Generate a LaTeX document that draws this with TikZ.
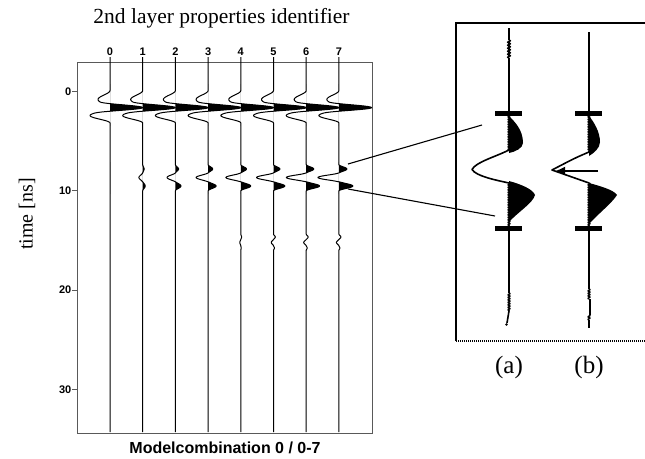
\documentclass[tikz,border=0pt]{standalone}
\usepackage{fontspec}
\setmainfont{Liberation Serif}
\setsansfont{Liberation Sans}
\usetikzlibrary{arrows.meta,decorations.pathmorphing}
\begin{document}
\begin{tikzpicture}[x=1pt,y=-1pt,
  declare function={
    bp(\qa,\qb,\qc)=(abs(\qa-\qb)<\qc)?(0.5*(1+cos(180*(\qa-\qb)/\qc))):0;
    dw(\qa)=-12*bp(\qa,99.5,9)+33*bp(\qa,107.5,5.5)-20*bp(\qa,115.5,7.5);
    sw(\qa)=8*bp(\qa,169,4.5)-21*bp(\qa,177.5,5)+14*bp(\qa,186,5);
    tw(\qa)=2*bp(\qa,237,3)-2.5*bp(\qa,242.5,3.5)+1*bp(\qa,248,2.5);
  },
  trace/.style={line width=1pt,line join=round},
  frame/.style={line width=0.8pt,black!65},
  tick/.style={line width=0.8pt,black!65},
  num/.style={font=\sffamily\bfseries\fontsize{11}{13}\selectfont,inner sep=0pt},
  conn/.style={line width=1.1pt},
  itrace/.style={line width=1.6pt,line join=round},
  zz/.style={decorate,decoration={zigzag,segment length=2.5pt,amplitude=0.9pt}},
  zzb/.style={decorate,decoration={zigzag,segment length=3pt,amplitude=1.4pt}},
  serif/.style={font=\rmfamily\fontsize{21.5}{25}\selectfont,inner sep=0pt},
  lab/.style={font=\rmfamily\fontsize{25}{29}\selectfont,inner sep=0pt}
]
\useasboundingbox (0,0) rectangle (645,458);

% titles
\node[serif] (title) at (221.5,18) {2nd layer properties identifier};
\node[serif,rotate=90,font=\rmfamily\fontsize{20}{24}\selectfont] (ylab) at (27,214) {time [ns]};
\node[font=\sffamily\bfseries\fontsize{16}{19}\selectfont,inner sep=0pt] (xlab) at (225,448) {Modelcombination 0 / 0-7};

% frame
\draw[frame] (77.5,62) rectangle (372,433);
\foreach \v/\yy in {0/91.5,10/190.8,20/290.1,30/389.4}{
  \draw[tick] (72,\yy) -- (77.5,\yy);
  \node[num,anchor=east] (t\v) at (71.5,\yy) {\v};
}

% traces
\foreach \i/\s/\r in {0/0/0,1/0.18/0,2/0.4/0,3/0.57/0,4/0.71/0.4,5/0.81/0.9,6/0.95/1,7/1/1}{
  \pgfmathsetmacro\xa{110+32.7*\i}
  \node[num] (n\i) at (\xa,52) {\i};
  \begin{scope}
    \clip (\xa,60) rectangle (\xa+45,440);
    \fill plot[domain=84:126,samples=85,variable=\y] ({\xa+dw(\y)},\y) -- cycle;
    \fill plot[domain=162:194,samples=65,variable=\y] ({\xa+\s*sw(\y)},\y) -- cycle;
  \end{scope}
  \draw[trace] (\xa,57) -- (\xa,84)
    -- plot[domain=84:126,samples=85,variable=\y] ({\xa+dw(\y)},\y)
    -- (\xa,162)
    -- plot[domain=162:194,samples=65,variable=\y] ({\xa+\s*sw(\y)},\y)
    -- (\xa,231)
    -- plot[domain=231:251,samples=41,variable=\y] ({\xa+\r*tw(\y)},\y)
    -- (\xa,432);
}

% inset box
\draw[line width=2pt] (645,23) -- (456,23) -- (456,341);
\draw[line width=2pt,dash pattern=on 1pt off 1pt] (456,341) -- (645,341);

% inset trace (a)
\draw[itrace] (509,28) -- (509,40);
\draw[itrace,zzb] (509,40) -- (509,58);
\draw[itrace] (509,58) -- (509,113);
\fill (495,111) rectangle (522,115.5);
\fill (509,116) .. controls (515,122) and (523,130) .. (523,143) .. controls (523,148) and (515,152) .. (509,153) -- cycle;
\draw[itrace,zz] (509,115) -- (509,150);
\draw[itrace] (509,150) .. controls (495,157) and (476,162) .. (472,169.5) .. controls (476,176) and (495,180) .. (509,183);
\fill (509,181) .. controls (520,184) and (533,189) .. (535,195) .. controls (533,203) and (518,212) .. (509,222) -- cycle;
\draw[itrace,zz] (509,183) -- (509,226);
\fill (495,226) rectangle (522,230.5);
\draw[itrace] (509,230) -- (509,293);
\draw[itrace,zz] (509,293) -- (509,311);
\draw[itrace] (509,311) -- (507,323);
\fill (506.5,324.5) circle (1.3);

% inset trace (b)
\draw[itrace] (589,32) -- (589,113);
\fill (575,111) rectangle (602,115.5);
\fill (589,116) .. controls (594,122) and (600,132) .. (600,142) .. controls (600,148) and (594,153) .. (589,156) -- cycle;
\draw[itrace,zz] (589,115) -- (589,152);
\draw[itrace] (589,152) .. controls (575,158) .. (552,170) .. controls (570,176) .. (589,183);
\fill (589,183) .. controls (600,186) and (614,190) .. (617,195) .. controls (612,203) and (598,214) .. (589,224) -- cycle;
\draw[itrace,zz] (589,183) -- (589,226);
\fill (575,226) rectangle (602,230.5);
\draw[itrace] (589,230) -- (589,289);
\draw[itrace,zz] (589,289) -- (589,299);
\draw[itrace] (590,299) -- (590,315);
\draw[itrace,zz] (589,315) -- (589,320);
\draw[itrace] (589,320) -- (589,328);
\coordinate (ar1) at (598,171);
\coordinate (ar2) at (555,171);
\draw[line width=1.8pt,-{Latex[length=10pt,width=9pt]}] (ar1) -- (ar2);

\node[lab] (la) at (509,367) {(a)};
\node[lab] (lb) at (589,367) {(b)};

% connectors
\coordinate (p1) at (348,164);
\coordinate (q1) at (482,125);
\coordinate (p2) at (348,189);
\coordinate (q2) at (495,216);
\draw[conn] (p1) -- (q1);
\draw[conn] (p2) -- (q2);
\end{tikzpicture}
\end{document}
